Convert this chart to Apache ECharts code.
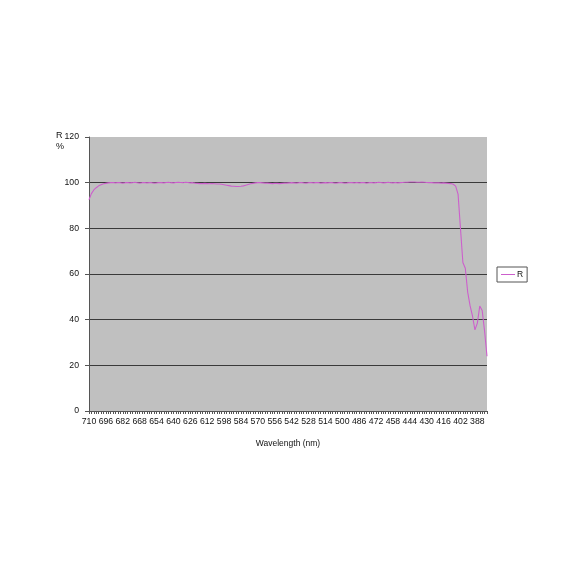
<!DOCTYPE html>
<html>
<head>
<meta charset="utf-8">
<script src="https://cdn.jsdelivr.net/npm/echarts@6/dist/echarts.min.js"></script>
<style>
html,body{margin:0;padding:0;background:#fff;}
#box1{width:579px;height:579px;}
</style>
</head>
<body>
<div id="box1"></div>
<script>
// wavelengths (nm), 710 down to 380
var wavelengths = [
	710,708,706,704,702,700,698,696,694,692,
	690,688,686,684,682,680,678,676,674,672,
	670,668,666,664,662,660,658,656,654,652,
	650,648,646,644,642,640,638,636,634,632,
	630,628,626,624,622,620,618,616,614,612,
	610,608,606,604,602,600,598,596,594,592,
	590,588,586,584,582,580,578,576,574,572,
	570,568,566,564,562,560,558,556,554,552,
	550,548,546,544,542,540,538,536,534,532,
	530,528,526,524,522,520,518,516,514,512,
	510,508,506,504,502,500,498,496,494,492,
	490,488,486,484,482,480,478,476,474,472,
	470,468,466,464,462,460,458,456,454,452,
	450,448,446,444,442,440,438,436,434,432,
	430,428,426,424,422,420,418,416,414,412,
	410,408,406,404,402,400,398,396,394,392,
	390,388,386,384,382,380
];
// reflectance R (%)
var reflectance = [
	92.5,95.2,96.8,97.8,98.6,99.1,99.5,99.7,99.9,100.0,
	100.1,99.9,100.1,100.0,99.8,100.0,100.1,99.9,100.0,100.2,
	100.0,99.8,100.0,100.1,99.9,100.0,100.0,99.8,99.9,100.1,
	100.0,99.9,100.1,100.2,100.0,99.9,100.1,100.2,100.1,100.0,
	100.2,100.1,99.9,100.0,99.8,99.7,99.6,99.6,99.7,99.6,
	99.5,99.6,99.5,99.4,99.4,99.3,99.1,98.9,98.7,98.5,
	98.4,98.3,98.3,98.4,98.6,98.9,99.2,99.5,99.7,99.9,
	100.0,100.0,99.9,99.8,99.8,99.7,99.6,99.7,99.7,99.6,
	99.7,99.8,99.8,99.9,100.0,99.9,99.8,100.0,100.1,99.9,
	99.8,100.0,100.1,99.9,100.0,100.1,99.8,99.9,100.0,99.9,
	100.1,100.0,99.8,99.9,100.1,100.0,99.8,99.9,100.1,100.0,
	99.9,100.1,99.9,100.0,100.1,99.8,100.0,100.1,99.9,100.0,
	100.2,100.1,99.9,100.0,100.2,100.0,99.9,100.1,99.9,100.0,
	100.1,100.2,100.2,100.3,100.3,100.3,100.2,100.2,100.3,100.2,
	100.1,100.0,100.0,99.9,99.9,99.9,99.8,99.9,99.8,99.7,
	99.6,99.3,98.5,95.0,80.0,65.0,62.5,52.0,46.0,41.5,
	35.5,38.5,46.0,44.0,35.0,24.0
];
var yTicks = {min:0, max:120, interval:20};

var font = 'Liberation Sans, Arial, sans-serif';
var narrow = '"Liberation Sans Narrow", "Arial Narrow", sans-serif';
var chart = echarts.init(document.getElementById('box1'));
var option = {
	animation: false,
	backgroundColor: '#fff',
	grid: {
		left: 89, right: 92, top: 137, bottom: 168,
		show: true, backgroundColor: '#c0c0c0', borderWidth: 0
	},
	graphic: [{
		type: 'text', left: 56, top: 130,
		style: {text: 'R\n%', font: '9px ' + font, fill: '#111', lineHeight: 11}
	}],
	legend: {
		data: ['R'],
		left: 497, top: 267,
		orient: 'vertical',
		padding: [3, 4, 3, 4],
		borderColor: '#555', borderWidth: 1,
		itemWidth: 14, itemHeight: 1, itemGap: 4,
		icon: 'rect',
		textStyle: {fontFamily: font, fontSize: 8.5, color: '#111', padding: [0, 0, 0, -3]}
	},
	xAxis: {
		type: 'category',
		data: wavelengths,
		boundaryGap: false,
		name: 'Wavelength (nm)',
		nameLocation: 'middle',
		nameGap: 28,
		nameTextStyle: {fontFamily: font, fontSize: 8.5, color: '#111'},
		axisLine: {lineStyle: {color: '#555', width: 1}},
		axisTick: {show: true, interval: 0, length: 3, lineStyle: {color: '#555'}},
		axisLabel: {interval: 6, fontFamily: narrow, fontSize: 8.7, color: '#111', margin: 6},
		splitLine: {show: false}
	},
	yAxis: {
		type: 'value',
		min: yTicks.min, max: yTicks.max, interval: yTicks.interval,
		axisLine: {show: true, lineStyle: {color: '#555', width: 1}},
		axisTick: {show: true, length: 4, lineStyle: {color: '#555'}},
		axisLabel: {fontFamily: narrow, fontSize: 8.7, color: '#111', margin: 10},
		splitLine: {show: true, lineStyle: {
			color: ['#3a3a3a', '#3a3a3a', '#3a3a3a', '#3a3a3a', '#3a3a3a', '#3a3a3a', 'rgba(0,0,0,0)'],
			width: 1
		}}
	},
	series: [{
		name: 'R',
		type: 'line',
		data: reflectance,
		showSymbol: false,
		symbol: 'none',
		smooth: false,
		lineStyle: {color: '#cc5fcc', width: 1.1},
		itemStyle: {color: '#cc5fcc'}
	}]
};
chart.setOption(option);
</script>
</body>
</html>
